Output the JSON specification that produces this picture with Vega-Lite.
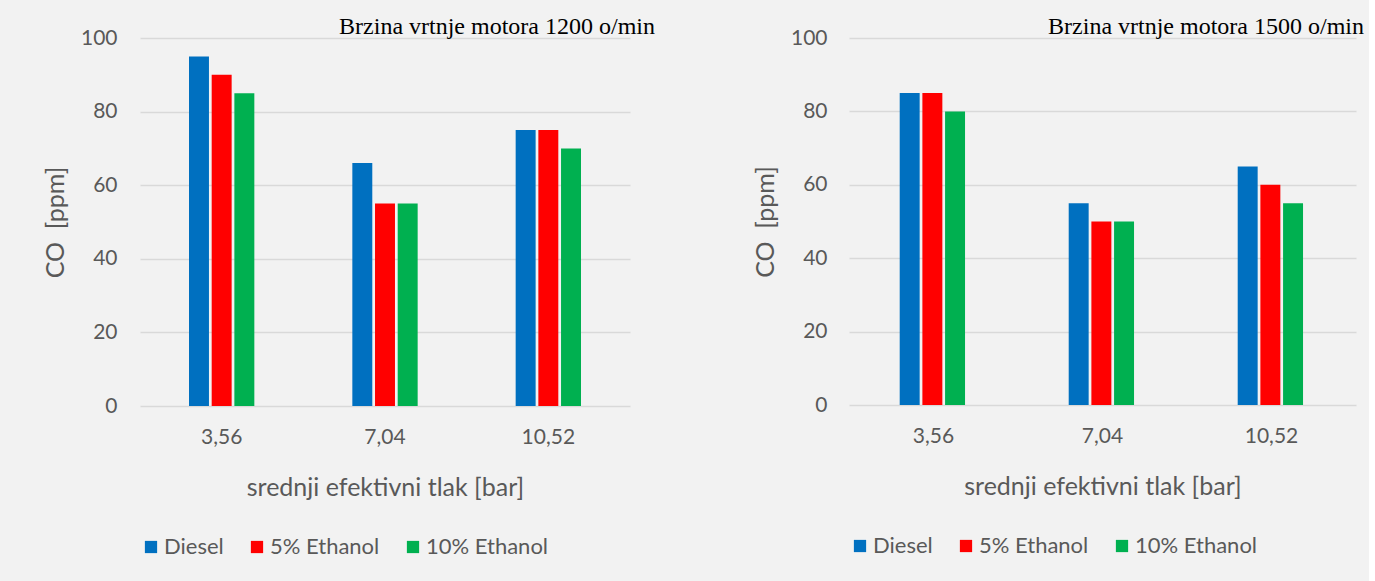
{
  "$schema": "https://vega.github.io/schema/vega-lite/v6.json",
  "background": "#f2f2f2",
  "padding": {"left": 43, "top": 15, "right": 5, "bottom": 25},
  "datasets": {
    "d": [
      {"brzina": 1200, "tlak": "3,56", "gorivo": "Diesel", "CO": 95},
      {"brzina": 1200, "tlak": "3,56", "gorivo": "5% Ethanol", "CO": 90},
      {"brzina": 1200, "tlak": "3,56", "gorivo": "10% Ethanol", "CO": 85},
      {"brzina": 1200, "tlak": "7,04", "gorivo": "Diesel", "CO": 66},
      {"brzina": 1200, "tlak": "7,04", "gorivo": "5% Ethanol", "CO": 55},
      {"brzina": 1200, "tlak": "7,04", "gorivo": "10% Ethanol", "CO": 55},
      {"brzina": 1200, "tlak": "10,52", "gorivo": "Diesel", "CO": 75},
      {"brzina": 1200, "tlak": "10,52", "gorivo": "5% Ethanol", "CO": 75},
      {"brzina": 1200, "tlak": "10,52", "gorivo": "10% Ethanol", "CO": 70},
      {"brzina": 1500, "tlak": "3,56", "gorivo": "Diesel", "CO": 85},
      {"brzina": 1500, "tlak": "3,56", "gorivo": "5% Ethanol", "CO": 85},
      {"brzina": 1500, "tlak": "3,56", "gorivo": "10% Ethanol", "CO": 80},
      {"brzina": 1500, "tlak": "7,04", "gorivo": "Diesel", "CO": 55},
      {"brzina": 1500, "tlak": "7,04", "gorivo": "5% Ethanol", "CO": 50},
      {"brzina": 1500, "tlak": "7,04", "gorivo": "10% Ethanol", "CO": 50},
      {"brzina": 1500, "tlak": "10,52", "gorivo": "Diesel", "CO": 65},
      {"brzina": 1500, "tlak": "10,52", "gorivo": "5% Ethanol", "CO": 60},
      {"brzina": 1500, "tlak": "10,52", "gorivo": "10% Ethanol", "CO": 55}
    ]
  },
  "config": {
    "font": "Lato",
    "view": {"stroke": null},
    "axis": {
      "labelColor": "#595959", "titleColor": "#595959",
      "labelFont": "Lato", "titleFont": "Lato",
      "labelFontSize": 21, "titleFontSize": 25, "titleFontWeight": "normal",
      "ticks": false, "domain": false
    },
    "axisY": {"gridColor": "#d9d9d9", "gridWidth": 1.3},
    "axisX": {"grid": false},
    "legend": {
      "labelFont": "Lato", "labelFontSize": 22, "labelColor": "#595959",
      "symbolType": "square", "symbolSize": 150, "symbolStrokeWidth": 0,
      "symbolOpacity": 1, "columnPadding": 22, "labelOffset": 2
    }
  },
  "spacing": 98,
  "resolve": {"legend": {"color": "independent"}},
  "hconcat": [
    {
      "width": 490, "height": 368,
      "title": {"text": "Brzina vrtnje motora 1200 o/min", "anchor": "end", "font": "Liberation Serif", "fontSize": 24, "fontWeight": "normal", "color": "#000000", "offset": -12, "dx": 25},
      "data": {"name": "d"},
      "transform": [{"filter": "datum.brzina == 1200"}],
      "mark": {"type": "bar"},
      "encoding": {
        "x": {"field": "tlak", "type": "nominal", "sort": ["3,56", "7,04", "10,52"],
              "scale": {"paddingInner": 0.6, "paddingOuter": 0.3},
              "axis": {"labelAngle": 0, "labelPadding": 20, "title": "srednji efektivni tlak [bar]", "titlePadding": 28}},
        "xOffset": {"field": "gorivo", "type": "nominal", "sort": ["Diesel", "5% Ethanol", "10% Ethanol"],
                    "scale": {"paddingInner": 0.12, "paddingOuter": 0}},
        "y": {"field": "CO", "type": "quantitative", "scale": {"domain": [0, 100]},
              "axis": {"values": [0, 20, 40, 60, 80, 100], "title": "CO\u00a0\u00a0[ppm]", "labelPadding": 23, "titlePadding": 12}},
        "color": {"field": "gorivo", "type": "nominal", "sort": ["Diesel", "5% Ethanol", "10% Ethanol"],
                  "scale": {"domain": ["Diesel", "5% Ethanol", "10% Ethanol"], "range": ["#0070C0", "#FF0000", "#00B050"]},
                  "legend": {"orient": "bottom", "direction": "horizontal", "title": null, "offset": 36}}
      }
    },
    {
      "width": 507, "height": 367,
      "title": {"text": "Brzina vrtnje motora 1500 o/min", "anchor": "end", "font": "Liberation Serif", "fontSize": 24, "fontWeight": "normal", "color": "#000000", "offset": -12, "dx": 8},
      "data": {"name": "d"},
      "transform": [{"filter": "datum.brzina == 1500"}],
      "mark": {"type": "bar"},
      "encoding": {
        "x": {"field": "tlak", "type": "nominal", "sort": ["3,56", "7,04", "10,52"],
              "scale": {"paddingInner": 0.6, "paddingOuter": 0.3},
              "axis": {"labelAngle": 0, "labelPadding": 20, "title": "srednji efektivni tlak [bar]", "titlePadding": 28}},
        "xOffset": {"field": "gorivo", "type": "nominal", "sort": ["Diesel", "5% Ethanol", "10% Ethanol"],
                    "scale": {"paddingInner": 0.12, "paddingOuter": 0}},
        "y": {"field": "CO", "type": "quantitative", "scale": {"domain": [0, 100]},
              "axis": {"values": [0, 20, 40, 60, 80, 100], "title": "CO\u00a0\u00a0[ppm]", "labelPadding": 22, "titlePadding": 12}},
        "color": {"field": "gorivo", "type": "nominal", "sort": ["Diesel", "5% Ethanol", "10% Ethanol"],
                  "scale": {"domain": ["Diesel", "5% Ethanol", "10% Ethanol"], "range": ["#0070C0", "#FF0000", "#00B050"]},
                  "legend": {"orient": "bottom", "direction": "horizontal", "title": null, "offset": 36}}
      }
    }
  ]
}
